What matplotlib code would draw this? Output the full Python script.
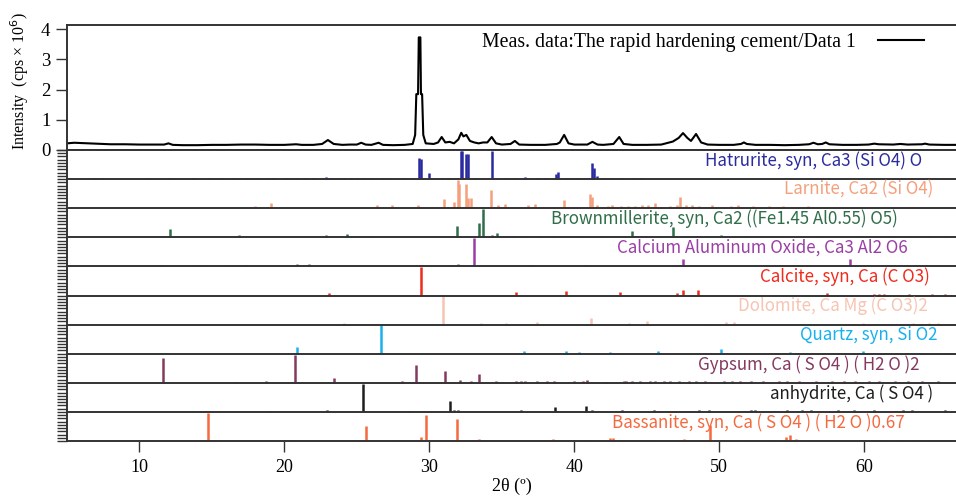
import matplotlib
matplotlib.use("Agg")
import matplotlib.pyplot as plt
from matplotlib.ticker import MultipleLocator, FixedLocator
import numpy as np

# ---------------- data ----------------
meas_2theta = [5.0, 5.5, 6.0, 6.5, 7.0, 8.0, 9.0, 10.0, 11.0, 11.7, 12.0, 12.3, 13.0, 14.0, 15.0,
               16.0, 17.0, 18.0, 19.0, 20.0, 20.8, 21.2, 22.0, 22.6, 23.0, 23.4, 24.0, 24.5, 25.0,
               25.3, 25.6, 26.0, 26.5, 26.8, 27.5, 28.3, 28.85, 29.02, 29.1, 29.22, 29.27, 29.38,
               29.42, 29.5, 29.58, 29.75, 30.3, 30.6, 30.85, 31.1, 31.4, 31.7, 32.0, 32.2, 32.35,
               32.55, 32.8, 33.1, 33.4, 33.7, 34.0, 34.3, 34.6, 35.0, 35.6, 35.9, 36.2, 37.0, 38.0,
               38.8, 39.0, 39.3, 39.6, 40.0, 40.9, 41.25, 41.6, 42.0, 42.7, 43.1, 43.4, 44.0, 45.0,
               46.0, 46.8, 47.2, 47.5, 47.8, 48.05, 48.4, 48.75, 49.2, 50.0, 51.0, 51.5, 51.7, 51.9,
               52.5, 53.5, 54.5, 55.5, 56.2, 56.5, 56.8, 57.1, 57.35, 57.6, 58.5, 59.5, 60.3, 60.7,
               61.0, 62.0, 62.5, 63.0, 64.0, 64.2, 64.5, 65.5, 66.5]
meas_intensity = [0.22, 0.24, 0.23, 0.22, 0.21, 0.19, 0.19, 0.18, 0.18, 0.18, 0.22, 0.17, 0.16, 0.16, 0.17,
                  0.17, 0.18, 0.18, 0.17, 0.17, 0.19, 0.17, 0.17, 0.20, 0.33, 0.20, 0.17, 0.18, 0.18,
                  0.24, 0.18, 0.17, 0.24, 0.17, 0.16, 0.17, 0.20, 0.50, 1.85, 1.85, 3.73, 3.73,
                  1.85, 1.85, 0.50, 0.22, 0.20, 0.25, 0.43, 0.25, 0.27, 0.22, 0.35, 0.57, 0.45,
                  0.50, 0.30, 0.25, 0.22, 0.25, 0.25, 0.43, 0.22, 0.18, 0.20, 0.30, 0.18, 0.17, 0.17,
                  0.20, 0.25, 0.50, 0.22, 0.18, 0.18, 0.27, 0.18, 0.17, 0.20, 0.43, 0.20, 0.17, 0.17,
                  0.18, 0.28, 0.40, 0.56, 0.40, 0.30, 0.53, 0.25, 0.18, 0.17, 0.17, 0.20, 0.25, 0.20,
                  0.17, 0.17, 0.16, 0.17, 0.19, 0.24, 0.19, 0.20, 0.25, 0.19, 0.17, 0.17, 0.18, 0.21,
                  0.19, 0.18, 0.20, 0.18, 0.19, 0.21, 0.18, 0.17, 0.17]

hatrurite_pos = [5.2, 6.9, 7.4, 9.6, 10.6, 11.3, 12.1, 12.9, 13.7, 14.9, 15.65, 16.5, 17.4, 18.2, 18.8,
                 19.2, 20.1, 20.8, 21.4, 22.0, 22.9, 23.3, 24.1, 24.6, 25.0, 25.4, 26.0, 26.8, 27.4,
                 28.2, 29.3, 29.45, 30.0, 30.9, 31.3, 32.15, 32.25, 32.55, 32.65, 33.2, 34.35, 35.3,
                 36.0, 36.6, 37.4, 38.0, 38.75, 38.85, 39.5, 40.2, 41.2, 41.35, 41.6, 42.0, 42.6,
                 43.2, 44.1, 44.6]
hatrurite_int = [0.02, 0.03, 0.03, 0.02, 0.03, 0.02, 0.03, 0.02, 0.03, 0.05, 0.03, 0.03, 0.03, 0.03, 0.03,
                 0.03, 0.03, 0.03, 0.03, 0.03, 0.08, 0.03, 0.03, 0.03, 0.03, 0.03, 0.03, 0.03, 0.02,
                 0.03, 0.76, 0.70, 0.20, 0.04, 0.04, 1.00, 1.00, 0.90, 0.90, 0.05, 1.00, 0.03,
                 0.04, 0.07, 0.03, 0.03, 0.18, 0.26, 0.04, 0.03, 0.56, 0.40, 0.12, 0.04, 0.03,
                 0.03, 0.03, 0.03]

larnite_pos = [16.2, 18.0, 19.05, 20.8, 22.0, 23.3, 23.6, 26.4, 27.4, 28.2, 29.2, 31.0, 31.7, 31.95,
               32.05, 32.5, 32.7, 32.9, 33.3, 34.25, 34.75, 35.2, 36.2, 36.8, 37.3, 38.0, 38.7, 39.3,
               39.9, 40.3, 41.1, 41.2, 41.6, 42.3, 42.6, 43.2, 43.7, 44.2, 44.7, 45.1, 45.55, 46.0,
               46.6, 47.1, 47.3, 47.7, 48.1, 48.6, 49.0, 49.5, 50.3, 50.8, 51.3, 51.8, 52.3, 52.8,
               53.4, 53.9, 54.4, 55.0, 55.5, 56.1, 56.7, 57.3, 57.9, 58.6, 59.2, 60.0, 60.7, 61.4,
               62.1, 62.8, 63.6, 64.4, 65.2, 66.0]
larnite_int = [0.02, 0.07, 0.18, 0.02, 0.03, 0.05, 0.05, 0.10, 0.10, 0.03, 0.12, 0.33, 0.22, 1.00,
               0.86, 0.84, 0.35, 0.35, 0.05, 0.65, 0.10, 0.15, 0.04, 0.12, 0.15, 0.04, 0.05, 0.30,
               0.05, 0.04, 0.50, 0.40, 0.12, 0.08, 0.10, 0.07, 0.08, 0.08, 0.10, 0.10, 0.20, 0.05,
               0.08, 0.10, 0.40, 0.10, 0.12, 0.08, 0.05, 0.10, 0.06, 0.08, 0.10, 0.06, 0.08, 0.05,
               0.08, 0.05, 0.08, 0.06, 0.05, 0.07, 0.05, 0.06, 0.05, 0.05, 0.06, 0.05, 0.04, 0.05,
               0.04, 0.05, 0.04, 0.05, 0.04, 0.04]

brownmillerite_pos = [12.1, 16.9, 22.9, 24.3, 24.4, 26.0, 31.9, 33.4, 33.7, 34.3, 34.7, 35.7, 36.6,
                      37.6, 38.5, 40.6, 41.8, 43.95, 45.9, 46.8, 47.6, 48.4, 49.2, 50.1, 51.0, 51.7,
                      52.9, 53.6, 54.3, 55.7, 57.0, 58.4, 59.6, 60.8, 62.0, 63.2, 64.5, 65.6]
brownmillerite_int = [0.28, 0.07, 0.08, 0.10, 0.05, 0.05, 0.40, 0.50, 1.00, 0.08, 0.15, 0.04, 0.04,
                      0.04, 0.03, 0.05, 0.06, 0.24, 0.05, 0.35, 0.05, 0.05, 0.06, 0.08, 0.05, 0.06,
                      0.04, 0.05, 0.06, 0.05, 0.06, 0.05, 0.06, 0.05, 0.04, 0.05, 0.04, 0.04]

c3a_pos = [10.0, 11.5, 12.95, 14.2, 16.35, 17.3, 19.2, 20.1, 20.9, 21.7, 22.5, 23.4, 24.3, 25.2, 26.1,
           27.3, 28.1, 28.9, 29.8, 30.5, 31.5, 32.0, 33.07, 33.7, 34.4, 35.3, 36.2, 37.05, 38.0, 38.8,
           39.6, 40.8, 41.6, 42.4, 43.2, 44.0, 44.7, 45.5, 46.3, 47.0, 47.5, 48.2, 49.0, 49.8, 50.6,
           51.4, 52.2, 53.0, 53.8, 54.6, 55.4, 56.2, 57.0, 57.8, 58.5, 59.05, 59.8, 60.6, 61.4, 62.2,
           63.0, 63.8, 64.6, 65.4, 66.2]
c3a_int = [0.03, 0.04, 0.03, 0.04, 0.04, 0.04, 0.03, 0.03, 0.07, 0.10, 0.03, 0.03, 0.03, 0.03, 0.03,
           0.03, 0.03, 0.03, 0.03, 0.03, 0.05, 0.08, 1.00, 0.03, 0.03, 0.03, 0.03, 0.04, 0.03, 0.03,
           0.03, 0.06, 0.03, 0.03, 0.03, 0.03, 0.03, 0.03, 0.03, 0.04, 0.27, 0.03, 0.03, 0.03, 0.03,
           0.03, 0.03, 0.03, 0.03, 0.03, 0.03, 0.03, 0.03, 0.03, 0.04, 0.25, 0.03, 0.03, 0.03, 0.03,
           0.03, 0.03, 0.03, 0.03, 0.03]

calcite_pos = [23.07, 29.4, 31.4, 35.95, 39.4, 43.15, 47.1, 47.5, 48.5, 56.6, 57.4, 58.1, 60.7, 61.0,
               61.4, 63.1, 64.7, 65.6]
calcite_int = [0.08, 1.00, 0.03, 0.12, 0.16, 0.14, 0.08, 0.18, 0.18, 0.03, 0.08, 0.03, 0.05, 0.04,
               0.05, 0.04, 0.06, 0.05]

dolomite_pos = [24.1, 30.95, 33.55, 35.3, 37.4, 41.15, 43.8, 45.0, 49.4, 50.5, 51.0, 58.9, 59.9, 63.4,
                64.5, 65.1]
dolomite_int = [0.07, 1.00, 0.07, 0.04, 0.10, 0.23, 0.05, 0.12, 0.03, 0.10, 0.10, 0.03, 0.05, 0.04,
                0.04, 0.04]

quartz_pos = [20.85, 26.64, 36.55, 39.45, 40.3, 42.45, 45.8, 50.15, 54.9, 55.3, 57.2, 59.95, 63.9,
              64.0, 65.8]
quartz_int = [0.24, 1.00, 0.10, 0.10, 0.07, 0.07, 0.10, 0.15, 0.05, 0.03, 0.03, 0.08, 0.04, 0.04, 0.03]

gypsum_pos = [11.65, 16.6, 18.7, 20.75, 23.4, 28.1, 29.1, 31.1, 32.1, 32.9, 33.4, 34.6, 35.95, 36.3,
              36.6, 37.4, 38.1, 38.6, 40.0, 40.6, 40.9, 42.2, 43.4, 43.6, 44.0, 44.5, 45.2, 45.6,
              46.2, 46.6, 47.2, 47.9, 48.4, 49.0, 50.3, 50.9, 51.4, 52.2, 53.0, 54.1, 54.7, 55.5,
              56.7, 57.8, 58.6, 59.4, 60.3, 61.0, 62.1, 63.0, 64.0, 65.1]
gypsum_int = [0.89, 0.03, 0.05, 1.00, 0.16, 0.07, 0.64, 0.42, 0.10, 0.06, 0.32, 0.05, 0.08, 0.05,
              0.05, 0.07, 0.05, 0.05, 0.05, 0.05, 0.10, 0.04, 0.08, 0.08, 0.06, 0.05, 0.05, 0.05,
              0.05, 0.05, 0.05, 0.06, 0.07, 0.05, 0.06, 0.05, 0.08, 0.05, 0.05, 0.06, 0.05, 0.05,
              0.06, 0.05, 0.05, 0.06, 0.05, 0.06, 0.05, 0.05, 0.05, 0.05]

anhydrite_pos = [19.0, 22.95, 25.45, 28.6, 31.4, 31.7, 32.0, 36.35, 38.65, 40.8, 41.2, 43.3, 45.5, 46.9,
                 48.6, 49.3, 52.2, 52.5, 54.7, 55.7, 56.3, 58.2, 59.3, 60.7, 62.7, 63.3, 65.6]
anhydrite_int = [0.02, 0.07, 1.00, 0.03, 0.39, 0.05, 0.07, 0.05, 0.18, 0.20, 0.08, 0.05, 0.05, 0.03,
                 0.08, 0.05, 0.08, 0.06, 0.05, 0.07, 0.05, 0.05, 0.05, 0.05, 0.05, 0.05, 0.05]

bassanite_pos = [14.75, 20.4, 24.7, 25.65, 27.7, 29.4, 29.75, 31.9, 33.4, 38.5, 40.8, 42.45, 42.7, 45.0,
                 47.6, 49.35, 52.2, 53.5, 54.6, 54.9, 55.3, 56.6, 57.8, 59.8, 61.2, 62.3, 63.5, 64.6,
                 65.5]
bassanite_int = [1.00, 0.05, 0.03, 0.52, 0.05, 0.15, 0.92, 0.78, 0.08, 0.08, 0.05, 0.12, 0.10, 0.05,
                 0.08, 0.55, 0.05, 0.04, 0.15, 0.20, 0.08, 0.05, 0.05, 0.05, 0.04, 0.05, 0.04, 0.05,
                 0.04]

phase_labels = [
    "Hatrurite, syn, Ca3 (Si O4) O",
    "Larnite, Ca2 (Si O4)",
    "Brownmillerite, syn, Ca2 ((Fe1.45 Al0.55) O5)",
    "Calcium Aluminum Oxide, Ca3 Al2 O6",
    "Calcite, syn, Ca (C O3)",
    "Dolomite, Ca Mg (C O3)2",
    "Quartz, syn, Si O2",
    "Gypsum, Ca ( S O4 ) ( H2 O )2",
    "anhydrite, Ca ( S O4 )",
    "Bassanite, syn, Ca ( S O4 ) ( H2 O )0.67",
]
phase_positions = [hatrurite_pos, larnite_pos, brownmillerite_pos, c3a_pos, calcite_pos,
                   dolomite_pos, quartz_pos, gypsum_pos, anhydrite_pos, bassanite_pos]
phase_intensities = [hatrurite_int, larnite_int, brownmillerite_int, c3a_int, calcite_int,
                     dolomite_int, quartz_int, gypsum_int, anhydrite_int, bassanite_int]

meas_label = "Meas. data:The rapid hardening cement/Data 1"
x_ticks = [10, 20, 30, 40, 50, 60]
y_ticks = [0, 1, 2, 3, 4]

# ---------------- style ----------------
phase_colors = ["#2b2ba0", "#f5a07c", "#2f6e48", "#9a3fa6", "#f02a1c",
                "#f6c4b2", "#19b0ee", "#843a60", "#1e1e1e", "#f5693e"]
label_right_px = [922, 933, 898, 908, 930, 928, 937, 920, 933, 905]

W, H = 956, 498
serif = ["Liberation Serif", "DejaVu Serif"]
sans = ["Noto Sans CJK JP", "DejaVu Sans"]

fig = plt.figure(figsize=(W / 100, H / 100), dpi=100)
left = 67 / W
ax_top = fig.add_axes([left, 1 - 150 / H, 1 - left + 0.001, 125 / H])
ax_bot = fig.add_axes([left, 1 - 441 / H, 1 - left + 0.001, 291 / H], sharex=ax_top)

spine_c = "#333333"
for ax in (ax_top, ax_bot):
    ax.spines["right"].set_visible(False)
    for s in ("left", "top", "bottom"):
        ax.spines[s].set_color(spine_c)
        ax.spines[s].set_linewidth(1.4)

# measured data
ax_top.plot(meas_2theta, meas_intensity, color="black", lw=1.5, label=meas_label)
ax_top.set_ylim(0, 4.14)
ax_top.set_xlim(5.0, 66.4)
ax_top.yaxis.set_major_locator(FixedLocator(y_ticks))
ax_top.tick_params(axis="y", direction="out", length=8, width=1.0, color=spine_c,
                   labelsize=13.5, pad=4)
ax_top.tick_params(axis="x", which="both", bottom=False, labelbottom=False)
for lab in ax_top.get_yticklabels():
    lab.set_fontfamily(serif)
ax_top.set_ylabel("Intensity  (cps \u00d7 10$^6$)", family=serif, fontsize=11.5)
ax_top.yaxis.label.set_va("center")
ax_top.yaxis.label.set_ha("center")
ax_top.yaxis.set_label_coords(-47 / (W - 67), 0.55)

leg = ax_top.legend(loc="center left", bbox_to_anchor=(482 / W, 1 - 42 / H),
                    bbox_transform=fig.transFigure, frameon=False, markerfirst=False,
                    handlelength=2.35, handletextpad=1.1, borderpad=0, borderaxespad=0,
                    prop={"family": serif, "size": 14.3})

# reference stick patterns
n = len(phase_labels)
ax_bot.set_ylim(-n, 0)
blend = matplotlib.transforms.blended_transform_factory(fig.transFigure, ax_bot.transData)
for i in range(n):
    base = -(i + 1)
    pos = np.asarray(phase_positions[i])
    inten = np.asarray(phase_intensities[i])
    ax_bot.vlines(pos, base, base + inten * 0.97, color=phase_colors[i], lw=1.8)
    if i < n - 1:
        ax_bot.axhline(base, color=spine_c, lw=1.4, zorder=3)
    ax_bot.text(label_right_px[i] / W, base + 0.64, phase_labels[i], ha="right", va="center",
                color=phase_colors[i], fontsize=12.2, family=sans, transform=blend)

ax_bot.yaxis.set_major_locator(MultipleLocator(1 / 9))
ax_bot.tick_params(axis="y", direction="out", length=7, width=1.0, color=spine_c,
                   labelleft=False)
ax_bot.xaxis.set_major_locator(FixedLocator(x_ticks))
ax_bot.tick_params(axis="x", direction="out", length=8, width=1.0, color=spine_c,
                   labelsize=13, pad=5)
for lab in ax_bot.get_xticklabels():
    lab.set_fontfamily(serif)
ax_bot.set_xlabel("2\u03b8 (\u00ba)", family=serif, fontsize=13, labelpad=1)

fig.savefig("out.png", dpi=100)
